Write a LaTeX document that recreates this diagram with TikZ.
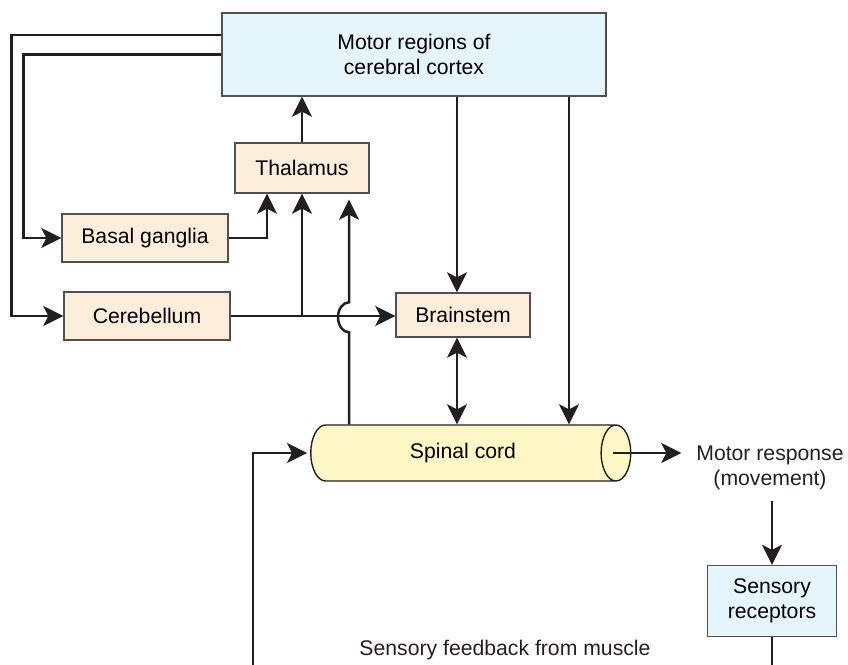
\documentclass[tikz,border=0pt]{standalone}
\usepackage{fontspec}
\setmainfont{Liberation Sans}
\usepackage{xcolor}
\usetikzlibrary{arrows.meta, positioning, shapes.geometric, calc}
\definecolor{motorblue}{HTML}{E5F5FC}
\definecolor{motorpeach}{HTML}{FDEEDC}
\definecolor{cordyellow}{HTML}{FFF8C6}
\definecolor{edgegray}{HTML}{505050}
\definecolor{inkdark}{HTML}{231F20}

\begin{document}
\begin{tikzpicture}[
    x=0.5pt, y=-0.5pt,
    font=\fontsize{10.6}{12.5}\selectfont,
    region/.style={draw=edgegray, line width=0.7pt, fill=motorpeach, inner sep=0pt},
    sensebox/.style={draw=edgegray, line width=0.7pt, fill=motorblue, inner sep=0pt, align=center},
    flow/.style={-{Stealth[length=10pt, width=10pt, inset=2.5pt]}, line width=1.25pt, draw=inkdark},
    dflow/.style={{Stealth[length=10pt, width=10pt, inset=2.5pt]}-{Stealth[length=10pt, width=10pt, inset=2.5pt]}, line width=1.25pt, draw=inkdark},
    plain/.style={line width=1.25pt, draw=inkdark},
    label/.style={align=center, text=inkdark},
]
\useasboundingbox (0,0) rectangle (848,665);

% Boxes
\node[sensebox, minimum width=192pt, minimum height=41.5pt] (cortex) at (414,54.5) {Motor regions of\\cerebral cortex};
\node[region, minimum width=67pt, minimum height=25pt] (thal) at (302,168) {Thalamus};
\node[region, minimum width=83pt, minimum height=24pt] (basal) at (145,238) {Basal ganglia};
\node[region, minimum width=83pt, minimum height=24pt] (cereb) at (147,316) {Cerebellum};
\node[region, minimum width=67pt, minimum height=22pt] (brain) at (463,315) {Brainstem};
\node[cylinder, draw=inkdark, line width=0.7pt, fill=cordyellow, aspect=1.5,
      minimum width=28pt, minimum height=160pt, shape border rotate=0, inner sep=0pt] (cord) at (463,453) {Spinal cord};
\node[label] (motor) at (770,468) {Motor response\\(movement)};
\node[sensebox, minimum width=64.5pt, minimum height=35.5pt] (sens) at (772,601) {Sensory\\receptors};
\node[label] (feedback) at (505,650) {Sensory feedback from muscle};

% Outer loops from the cortex
\draw[flow] ([yshift=9.75pt]cortex.west) -- ++(-210,0) |- (cereb.west);
\draw[flow] (cortex.west) -- ++(-198,0) |- (basal.west);

% Into the thalamus and up
\draw[flow] (thal.north) -- (thal.north |- cortex.south);
\draw[flow] (basal.east) -| ([xshift=-17.5pt]thal.south);
\draw[flow] (cereb.east) -- (cereb.east -| brain.west);
\draw[flow] (cereb.east -| thal.south) -- (thal.south);
\draw[flow] ([xshift=23.5pt]thal.south |- cord.north) -- ++(0,-92)
    arc[start angle=270, end angle=90, x radius=5.5pt, y radius=7.5pt]
    -- ([xshift=23.5pt, yshift=-3pt]thal.south);

% Descending paths
\draw[flow] ([xshift=-3pt]brain.north |- cortex.south) -- ([xshift=-3pt]brain.north);
\draw[dflow] ([xshift=-3pt]brain.south) -- ([xshift=-3pt]brain.south |- cord.north);
\draw[flow] ([xshift=77.5pt]cortex.south) -- ([xshift=77.5pt]cortex.south |- cord.north);

% Response and feedback
\coordinate (fbR) at (772,665);
\coordinate (fbL) at (253,665);
\draw[flow] ([xshift=-9pt]cord.east) -- ([xshift=-4pt]motor.west |- cord.east);
\draw[flow] ([yshift=-2pt]motor.south -| sens.north) -- (sens.north);
\draw[plain] (sens.south) -- (fbR);
\draw[flow] (fbL) |- ([xshift=-1.5pt]cord.west);

\end{tikzpicture}
\end{document}
